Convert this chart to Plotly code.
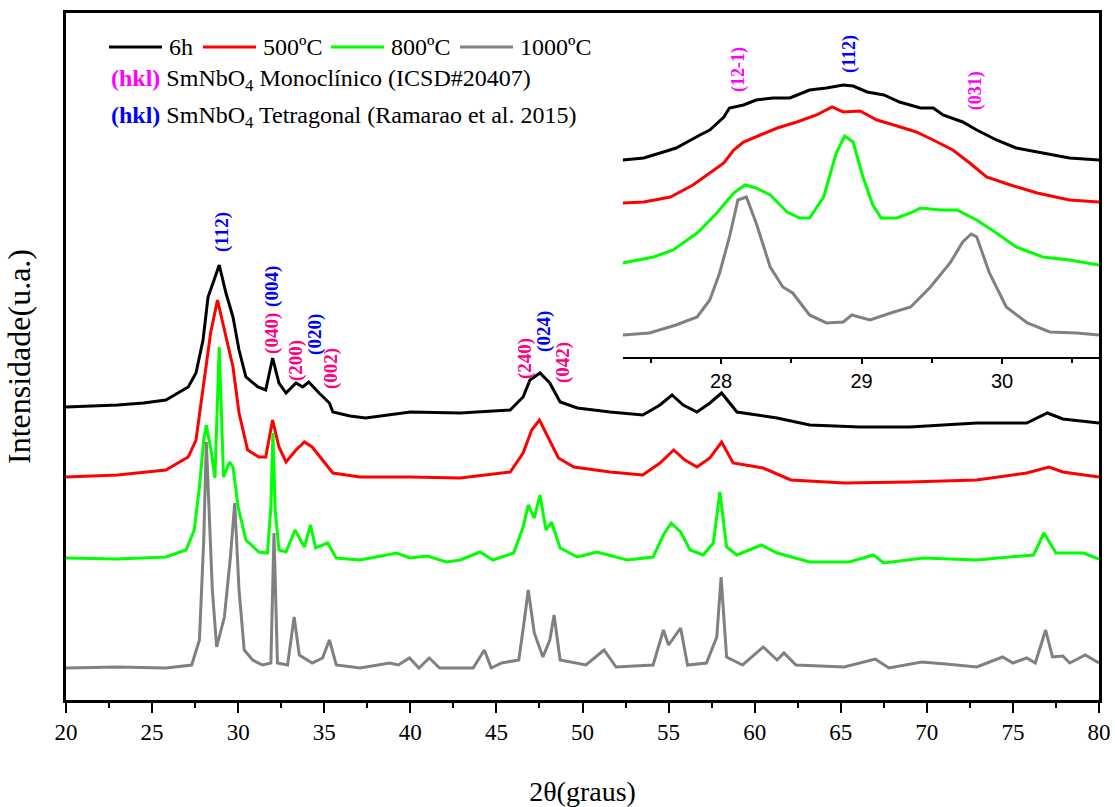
import plotly.graph_objects as go

# ---------------- main pattern data (2theta in degrees, intensity in a.u., stacked as plotted) ----------------
x_6h = [20.0, 21.5, 23.0, 24.5, 25.8, 27.1, 27.55, 27.96, 28.25, 28.54, 28.9, 29.29, 29.7, 30.05, 30.45,
        31.15, 31.6, 32.0, 32.37, 32.78, 33.36, 33.75, 34.1, 34.7, 35.3, 35.5, 36.5, 37.4, 40.0, 42.9,
        45.8, 46.55, 46.95, 47.53, 48.1, 48.7, 49.7, 51.6, 53.5, 54.5, 55.2, 55.85, 56.65, 57.4, 58.08,
        58.97, 60.3, 61.3, 63.2, 66.1, 69.0, 72.9, 75.8, 77.0, 77.9, 80.0]
y_6h = [293, 294, 295, 297, 300, 313, 327, 360, 403, 417, 435, 407, 383, 350, 323,
        313, 310, 342, 317, 307, 317, 313, 318, 307, 297, 288, 284, 282, 288, 287,
        290, 303, 320, 327, 317, 298, 292, 288, 285, 295, 305, 295, 288, 297, 307,
        288, 285, 282, 275, 273, 273, 277, 277, 287, 281, 277]

x_500 = [20.0, 23.0, 25.8, 27.1, 27.55, 27.96, 28.4, 28.8, 29.2, 29.7, 30.05, 30.55, 31.2, 31.6, 32.0,
         32.37, 32.78, 33.36, 33.85, 34.3, 34.9, 35.5, 37.08, 40.0, 42.9, 45.8, 46.55, 47.05, 47.5, 48.0,
         48.6, 49.5, 51.6, 53.5, 54.5, 55.3, 55.95, 56.65, 57.4, 58.08, 58.75, 60.5, 62.1, 65.2, 69.0,
         72.9, 75.8, 77.1, 77.9, 80.0]
y_500 = [223, 225, 230, 243, 260, 310, 367, 400, 370, 333, 287, 250, 243, 243, 280,
         253, 238, 250, 258, 253, 240, 227, 223, 223, 222, 228, 247, 270, 280, 263,
         242, 233, 228, 225, 237, 250, 240, 233, 242, 258, 237, 232, 220, 217, 218,
         220, 227, 233, 228, 223]

x_800 = [20.0, 23.0, 25.8, 26.97, 27.45, 27.75, 28.0, 28.15, 28.45, 28.65, 28.9, 29.15, 29.5, 29.7, 30.0,
         30.45, 31.2, 31.7, 31.9, 32.02, 32.15, 32.37, 32.78, 33.3, 33.85, 34.2, 34.5, 35.2, 35.7, 37.08,
         39.2, 39.98, 41.0, 42.1, 42.9, 44.05, 44.8, 46.0, 46.55, 46.85, 47.2, 47.53, 47.88, 48.2, 48.7,
         49.7, 50.85, 52.6, 54.1, 54.7, 55.15, 55.7, 56.25, 57.0, 57.6, 57.98, 58.37, 58.97, 60.4, 61.3,
         63.2, 65.5, 66.9, 67.5, 69.8, 72.9, 74.8, 76.2, 76.8, 77.5, 79.1, 80.0]
y_800 = [142, 141, 143, 150, 170, 213, 260, 275, 247, 222, 353, 223, 238, 233, 193,
         160, 148, 147, 193, 267, 190, 150, 148, 170, 153, 175, 152, 157, 142, 140,
         147, 142, 144, 138, 140, 148, 140, 147, 173, 195, 182, 205, 170, 178, 152,
         143, 148, 140, 143, 165, 177, 168, 150, 145, 157, 208, 153, 145, 155, 147,
         138, 138, 145, 137, 142, 140, 143, 145, 167, 147, 147, 141]

x_1000 = [20.0, 23.0, 25.8, 27.3, 27.75, 28.0, 28.15, 28.5, 28.75, 28.93, 29.2, 29.55, 29.8, 30.05, 30.35,
          30.84, 31.4, 31.9, 32.08, 32.28, 32.87, 33.25, 33.55, 34.3, 34.9, 35.3, 35.7, 37.08, 38.8, 39.3,
          39.95, 40.5, 41.1, 41.7, 43.65, 44.3, 44.7, 45.3, 46.3, 46.6, 46.85, 47.2, 47.7, 48.1, 48.35,
          48.7, 50.2, 51.25, 51.95, 54.1, 54.7, 55.0, 55.7, 56.1, 57.2, 57.8, 58.05, 58.37, 59.3, 60.5,
          61.3, 61.7, 62.4, 65.2, 67.0, 67.8, 69.7, 71.1, 72.9, 74.4, 75.0, 75.8, 76.3, 76.9, 77.3,
          77.9, 78.3, 79.2, 80.0]
y_1000 = [32, 33, 32, 35, 60, 160, 258, 110, 53, 65, 83, 143, 197, 110, 50,
          40, 35, 37, 167, 37, 35, 83, 45, 37, 42, 60, 35, 32, 37, 35,
          42, 32, 42, 32, 32, 50, 32, 37, 40, 77, 110, 67, 43, 60, 85,
          40, 35, 50, 33, 35, 70, 55, 72, 35, 37, 63, 123, 43, 35, 53,
          40, 47, 35, 33, 41, 32, 38, 36, 33, 43, 37, 42, 37, 70, 43,
          44, 37, 45, 37]

# ---------------- inset data (27.3-30.7 degrees, own offsets) ----------------
xi_6h = [27.30, 27.45, 27.59, 27.68, 27.85, 27.92, 28.02, 28.06, 28.16, 28.25, 28.37, 28.49, 28.63, 28.75,
         28.87, 28.94, 29.04, 29.16, 29.27, 29.42, 29.51, 29.58, 29.72, 29.82, 29.96, 30.10, 30.29, 30.48, 30.69]
yi_6h = [197, 199, 205, 209, 222, 227, 240, 249, 252, 257, 259, 259, 267, 269,
         272, 271, 265, 262, 255, 249, 249, 242, 235, 227, 217, 209, 204, 199, 197]

xi_500 = [27.30, 27.45, 27.64, 27.80, 27.92, 28.02, 28.09, 28.16, 28.28, 28.40, 28.54, 28.68, 28.79,
          28.87, 28.99, 29.11, 29.23, 29.39, 29.51, 29.65, 29.77, 29.89, 30.06, 30.25, 30.48, 30.69]
yi_500 = [154, 155, 160, 172, 184, 194, 207, 215, 222, 229, 235, 242, 250,
          245, 246, 237, 232, 225, 217, 207, 194, 180, 172, 164, 157, 155]

xi_800 = [27.30, 27.52, 27.66, 27.83, 27.97, 28.09, 28.17, 28.25, 28.35, 28.47, 28.56, 28.63, 28.73,
          28.82, 28.88, 28.94, 29.01, 29.08, 29.14, 29.25, 29.35, 29.42, 29.56, 29.68, 29.82, 29.96,
          30.10, 30.29, 30.48, 30.69]
yi_800 = [94, 100, 107, 124, 144, 164, 172, 169, 162, 145, 139, 139, 160,
          204, 221, 215, 180, 152, 139, 139, 144, 149, 147, 147, 137, 124,
          110, 100, 97, 92]

xi_1000 = [27.30, 27.49, 27.68, 27.83, 27.92, 27.99, 28.06, 28.12, 28.18, 28.25, 28.35, 28.44, 28.51,
           28.63, 28.75, 28.87, 28.93, 29.06, 29.23, 29.35, 29.49, 29.63, 29.72, 29.78, 29.82, 29.91,
           30.03, 30.18, 30.34, 30.53, 30.69]
yi_1000 = [22, 24, 32, 40, 57, 84, 120, 157, 160, 134, 90, 70, 64,
           42, 34, 35, 42, 37, 45, 50, 70, 94, 115, 123, 120, 84,
           50, 34, 25, 24, 22]

series_names = ["6h", "500ºC", "800ºC", "1000ºC"]
series_colors = ["#000000", "#FF0000", "#00FF00", "#808080"]

# hkl labels: main plot
hkl_main_text = ["(112)", "(004)", "(040)", "(200)", "(020)", "(002)", "(240)", "(024)", "(042)"]
hkl_main_x = [29.06, 31.96, 31.96, 33.36, 34.46, 35.39, 46.66, 47.76, 48.87]
hkl_main_y = [468, 414, 367, 339, 366, 332, 341, 369, 337]
hkl_main_phase = ["T", "T", "M", "M", "T", "M", "M", "T", "M"]

# hkl labels: inset
hkl_inset_text = ["(12-1)", "(112)", "(031)"]
hkl_inset_x = [28.12, 28.91, 29.81]
hkl_inset_y = [288, 303, 266]
hkl_inset_phase = ["M", "T", "M"]

SERIF = "Liberation Serif, Times New Roman, serif"
SANS = "Liberation Sans, Arial, sans-serif"
BLUE = "#0000FF"
PINK = "#FF0080"
MAGENTA = "#FF00FF"

fig = go.Figure()

main = [(x_6h, y_6h), (x_500, y_500), (x_800, y_800), (x_1000, y_1000)]
for (xs, ys), name, col in zip(main, series_names, series_colors):
    fig.add_trace(go.Scatter(x=xs, y=ys, mode="lines", name=name, showlegend=False,
                             line=dict(color=col, width=3)))

inset = [(xi_6h, yi_6h), (xi_500, yi_500), (xi_800, yi_800), (xi_1000, yi_1000)]
for (xs, ys), name, col in zip(inset, series_names, series_colors):
    fig.add_trace(go.Scatter(x=xs, y=ys, mode="lines", name=name, showlegend=False,
                             xaxis="x2", yaxis="y2", line=dict(color=col, width=3)))

annotations = []
for t, x, y, ph in zip(hkl_main_text, hkl_main_x, hkl_main_y, hkl_main_phase):
    annotations.append(dict(x=x, y=y, xref="x", yref="y", text="<b>%s</b>" % t, showarrow=False,
                            textangle=-90, font=dict(family=SERIF, size=19,
                                                     color=BLUE if ph == "T" else PINK)))
for t, x, y, ph in zip(hkl_inset_text, hkl_inset_x, hkl_inset_y, hkl_inset_phase):
    annotations.append(dict(x=x, y=y, xref="x2", yref="y2", text="<b>%s</b>" % t, showarrow=False,
                            textangle=-90, font=dict(family=SERIF, size=18,
                                                     color=BLUE if ph == "T" else MAGENTA)))

# manual legend (line samples + labels), top-left of the frame
legend_y = 0.9505
legend_line_x0 = [0.0416, 0.1326, 0.2565, 0.3814]
legend_line_len = 0.0513
shapes = []
for x0, name, col in zip(legend_line_x0, series_names, series_colors):
    shapes.append(dict(type="line", xref="paper", yref="paper", x0=x0, x1=x0 + legend_line_len,
                       y0=legend_y, y1=legend_y, line=dict(color=col, width=3)))
    annotations.append(dict(x=x0 + legend_line_len + 0.005, y=legend_y, xref="paper", yref="paper",
                            xanchor="left", yanchor="middle", showarrow=False, text=name,
                            font=dict(family=SERIF, size=24, color="black")))

annotations.append(dict(x=0.0416, y=0.9025, xref="paper", yref="paper", xanchor="left", yanchor="middle",
                        showarrow=False, font=dict(family=SERIF, size=24, color="black"),
                        text='<b><span style="color:%s">(hkl)</span></b> SmNbO<sub>4</sub> Monoclínico (ICSD#20407)' % MAGENTA))
annotations.append(dict(x=0.0416, y=0.8486, xref="paper", yref="paper", xanchor="left", yanchor="middle",
                        showarrow=False, font=dict(family=SERIF, size=24, color="black"),
                        text='<b><span style="color:%s">(hkl)</span></b> SmNbO<sub>4</sub> Tetragonal (Ramarao et al. 2015)' % BLUE))

fig.update_layout(
    width=1115, height=807,
    margin=dict(l=66, r=16, t=13, b=107),
    paper_bgcolor="white", plot_bgcolor="white",
    font=dict(family=SERIF, size=22, color="black"),
    showlegend=False,
    xaxis=dict(range=[20, 80], dtick=5, tick0=20, showgrid=False, zeroline=False, automargin=False,
               showline=True, linecolor="black", linewidth=2.5, mirror=True,
               ticks="outside", ticklen=10, tickwidth=2, tickcolor="black",
               minor=dict(dtick=2.5, ticks="outside", ticklen=5, tickwidth=2, tickcolor="black"),
               tickfont=dict(family=SERIF, size=23),
               title=dict(text="2θ(graus)", font=dict(family=SERIF, size=28), standoff=40)),
    yaxis=dict(range=[0, 687], showgrid=False, zeroline=False, showticklabels=False, ticks="",
               automargin=False,
               showline=True, linecolor="black", linewidth=2.5, mirror=True,
               title=dict(text="Intensidade(u.a.)", font=dict(family=SERIF, size=32), standoff=24)),
    xaxis2=dict(domain=[0.5389, 1.0], anchor="y2", range=[27.30, 30.69], dtick=1, tick0=28,
                showgrid=False, zeroline=False, showline=True, linecolor="black", linewidth=1.5,
                ticks="outside", ticklen=5, tickwidth=1.5, tickcolor="black",
                minor=dict(dtick=0.5, tick0=27.5, ticks="outside", ticklen=4, tickwidth=1.5, tickcolor="black"),
                tickfont=dict(family=SANS, size=20)),
    yaxis2=dict(domain=[0.4993, 1.0], anchor="x2", range=[0, 344], visible=False),
    annotations=annotations,
    shapes=shapes,
)

fig.write_html("out.html")
